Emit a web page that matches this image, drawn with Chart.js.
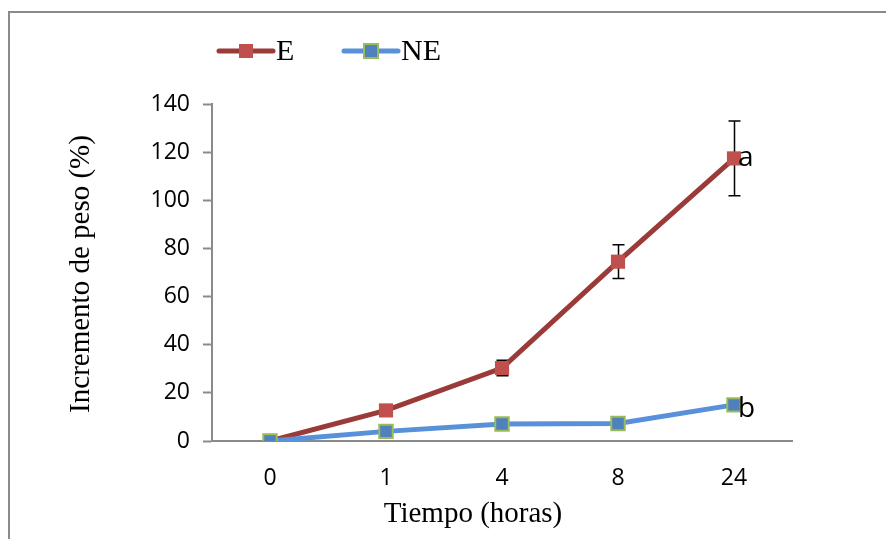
<!DOCTYPE html>
<html>
<head>
<meta charset="utf-8">
<script src="https://cdn.jsdelivr.net/npm/chart.js@4"></script>
<style>
  html, body { margin: 0; padding: 0; background: #fff; }
  #wrap { width: 886px; height: 539px; }
</style>
</head>
<body>
<div id="wrap"><canvas id="chart" width="886" height="539"></canvas></div>
<script>
// data
const labels = ['0', '1', '4', '8', '24'];
const eValues = [0, 12.7, 30.3, 74.5, 117.4];
const eErrors = [0, 0, 3.2, 7, 15.5];
const neValues = [0, 4, 7.1, 7.3, 15];
const neErrors = [0, 0, 0, 0, 0];
const yTicks = [0, 20, 40, 60, 80, 100, 120, 140];
const letters = ['a', 'b'];

const axisGray = '#8a8a8a';
const eLine = '#9a3b39', eMark = '#c0504d';
const neLine = '#5891d9', neMark = '#4f81bd', neEdge = '#9bbb59';

// frame, legend, titles, letters and error bars
const extras = {
  id: 'extras',
  beforeDraw(chart) {
    const ctx = chart.ctx;
    ctx.save();
    ctx.fillStyle = '#fff';
    ctx.fillRect(0, 0, chart.width, chart.height);
    ctx.strokeStyle = axisGray;
    ctx.lineWidth = 2;
    ctx.strokeRect(9, 12, 1000, 1000);
    ctx.restore();
  },
  beforeDatasetsDraw(chart) {
    const ctx = chart.ctx, x = chart.scales.x, y = chart.scales.y;
    ctx.save();
    ctx.strokeStyle = '#000';
    ctx.lineWidth = 1.5;
    [[eValues, eErrors], [neValues, neErrors]].forEach(([vals, errs]) => {
      vals.forEach((v, i) => {
        if (!errs[i]) return;
        const px = Math.round(x.getPixelForValue(i)) + 0.5;
        const top = y.getPixelForValue(v + errs[i]);
        const bot = y.getPixelForValue(v - errs[i]);
        ctx.beginPath();
        ctx.moveTo(px, top); ctx.lineTo(px, bot);
        ctx.moveTo(px - 6, top); ctx.lineTo(px + 6, top);
        ctx.moveTo(px - 6, bot); ctx.lineTo(px + 6, bot);
        ctx.stroke();
      });
    });
    ctx.restore();
  },
  afterDraw(chart) {
    const ctx = chart.ctx, x = chart.scales.x, y = chart.scales.y;
    ctx.save();
    // legend
    const item = (x0, x1, line, fill, edge, text) => {
      ctx.strokeStyle = line;
      ctx.lineWidth = 5;
      ctx.lineCap = 'round';
      ctx.beginPath(); ctx.moveTo(x0, 51); ctx.lineTo(x1, 51); ctx.stroke();
      const cx = (x0 + x1) / 2;
      ctx.fillStyle = fill;
      ctx.fillRect(cx - 7, 44, 14, 14);
      if (edge) {
        ctx.strokeStyle = edge; ctx.lineWidth = 2;
        ctx.strokeRect(cx - 7, 44, 14, 14);
      }
      ctx.fillStyle = '#000';
      ctx.font = '30px "Liberation Serif"';
      ctx.textBaseline = 'middle';
      ctx.textAlign = 'left';
      ctx.fillText(text, x1 + 3, 52);
    };
    item(219, 273, eLine, eMark, null, 'E');
    item(344, 398, neLine, neMark, neEdge, 'NE');

    // axis titles
    ctx.fillStyle = '#000';
    ctx.font = '29px "Liberation Serif"';
    ctx.textAlign = 'center';
    ctx.textBaseline = 'middle';
    ctx.fillText('Tiempo (horas)', 473, 514);
    ctx.save();
    ctx.translate(81, 274);
    ctx.rotate(-Math.PI / 2);
    ctx.fillText('Incremento de peso (%)', 0, 0);
    ctx.restore();

    // significance letters
    ctx.font = '28px "Open Sans"';
    ctx.textAlign = 'left';
    const last = labels.length - 1;
    ctx.fillText(letters[0], x.getPixelForValue(last) + 4, y.getPixelForValue(eValues[last]));
    ctx.fillText(letters[1], x.getPixelForValue(last) + 4, y.getPixelForValue(neValues[last]) + 4);
    ctx.restore();
  }
};

new Chart(document.getElementById('chart'), {
  type: 'line',
  data: {
    labels: labels,
    datasets: [{
      label: 'NE',
      data: neValues,
      borderColor: neLine,
      borderWidth: 5,
      pointStyle: 'rect',
      pointRadius: 9.5,
      pointBackgroundColor: neMark,
      pointBorderColor: neEdge,
      pointBorderWidth: 2,
      order: 0
    }, {
      label: 'E',
      data: eValues,
      borderColor: eLine,
      borderWidth: 5,
      pointStyle: 'rect',
      pointRadius: 10,
      pointBackgroundColor: eMark,
      pointBorderWidth: 0,
      order: 1
    }]
  },
  options: {
    responsive: false,
    animation: false,
    events: [],
    layout: { padding: { top: 104, right: 94, left: 0, bottom: 0 } },
    plugins: { legend: { display: false }, tooltip: { enabled: false } },
    scales: {
      x: {
        offset: true,
        grid: { display: false },
        border: { color: axisGray, width: 2 },
        ticks: { color: '#000', font: { family: 'Open Sans', size: 23 }, padding: 16 },
        afterFit: s => { s.height = 98; }
      },
      y: {
        min: 0,
        max: 140,
        afterBuildTicks: s => { s.ticks = yTicks.map(v => ({ value: v })); },
        grid: { drawOnChartArea: false, drawTicks: true, tickLength: 9, tickColor: axisGray, tickWidth: 2 },
        border: { color: axisGray, width: 2 },
        ticks: { color: '#000', font: { family: 'Open Sans', size: 23 }, padding: 13 },
        afterFit: s => { s.width = 212; }
      }
    }
  },
  plugins: [extras]
});
</script>
</body>
</html>
